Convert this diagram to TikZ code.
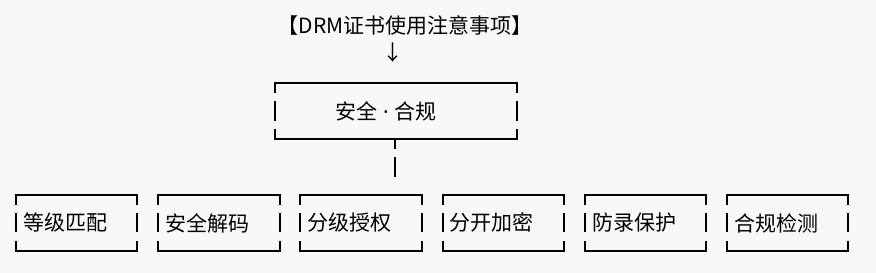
\documentclass[tikz,border=0pt]{standalone}
\usepackage{fontspec}
\setmainfont{Noto Sans CJK SC}
\newfontfamily\latinfont{Noto Sans}
\usetikzlibrary{positioning, calc}
\definecolor{bgcolor}{RGB}{248, 248, 248}
\definecolor{inkcolor}{RGB}{0, 0, 0}

\tikzset{
    framepen/.style={inkcolor, line width=2pt},
    tickbox/.style={inner ysep=0pt, text=inkcolor},
}

% 括号式边框: 节点, 角部短线, 中间短线半长
\newcommand{\tickframe}[3]{%
    \draw[framepen] ([yshift=-#2]#1.north west) -- (#1.north west) -- (#1.north east) -- ([yshift=-#2]#1.north east);
    \draw[framepen] ([yshift=#2]#1.south west) -- (#1.south west) -- (#1.south east) -- ([yshift=#2]#1.south east);
    \draw[framepen] ([yshift=#3]#1.west) -- ([yshift=-#3]#1.west);
    \draw[framepen] ([yshift=#3]#1.east) -- ([yshift=-#3]#1.east);
}

\begin{document}
\begin{tikzpicture}[x=1pt, y=-1pt, font=\fontsize{21}{25}\selectfont]
        % 背景
        \fill[bgcolor] (0,0) rectangle (876,273);
        \useasboundingbox (0,0) rectangle (876,273);

        % 标题
        \node (title) at (405,25) {【DRM证书使用注意事项】};
        \node (arrowdown) at (393,53) {↓};

        % 中心框
        \node[tickbox, minimum width=241pt, minimum height=56pt,
              label={[xshift=-10pt]center:安全{\latinfont\ ·\ }合规}] (core) at (396,111) {};
        \tickframe{core}{10pt}{10pt}

        % 虚线
        \coordinate (hub) at (395,177);
        \draw[framepen, dash pattern=on 10pt off 8pt on 20pt off 10pt] ([xshift=-1pt]core.south) -- (hub);

        % 六个要点
        \foreach \i/\txt in {1/等级匹配, 2/安全解码, 3/分级授权, 4/分开加密, 5/防录保护, 6/合规检测} {
            \node[tickbox, anchor=north west, text width=107pt, inner xsep=7pt, align=left,
                  minimum height=56.5pt] (item\i) at ({16+142.2*(\i-1)}, 194.5) {\txt};
            \tickframe{item\i}{10pt}{9.5pt}
        }

    \end{tikzpicture}
\end{document}
